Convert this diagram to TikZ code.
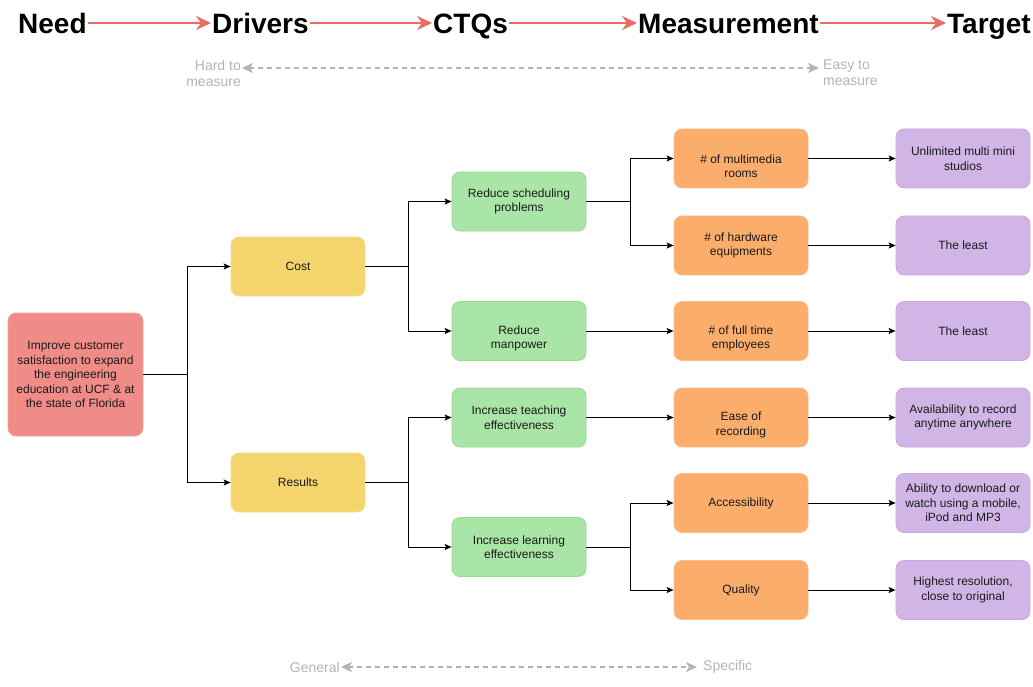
\documentclass[tikz,border=0pt]{standalone}
\usepackage{fontspec}
\setmainfont{Liberation Sans}
\usetikzlibrary{arrows.meta}
\definecolor{hdrred}{HTML}{EA6B66}
\definecolor{graytxt}{HTML}{B3B3B3}
\definecolor{needfill}{HTML}{F08C88}
\definecolor{needdraw}{HTML}{EBA4A1}
\definecolor{yelfill}{HTML}{F3D46D}
\definecolor{yeldraw}{HTML}{F6DE8E}
\definecolor{grnfill}{HTML}{A9E5A6}
\definecolor{grndraw}{HTML}{97D98F}
\definecolor{orgfill}{HTML}{FBAD6C}
\definecolor{orgdraw}{HTML}{F9BE8C}
\definecolor{purfill}{HTML}{D0B5E6}
\definecolor{purdraw}{HTML}{C7AADF}
\definecolor{boxtxt}{HTML}{1A1A1A}
\begin{document}
\begin{tikzpicture}[x=1pt,y=-1pt,
  box/.style={rounded corners=8pt, minimum width=134pt, minimum height=59pt,
    align=center, font=\fontsize{12}{14.5}\selectfont, text=boxtxt, inner sep=2pt, line width=0.8pt},
  needbox/.style={box, fill=needfill, draw=needdraw},
  yelbox/.style={box, fill=yelfill, draw=yeldraw},
  grnbox/.style={box, fill=grnfill, draw=grndraw},
  orgbox/.style={box, fill=orgfill, draw=orgdraw},
  purbox/.style={box, fill=purfill, draw=purdraw},
  hdr/.style={font=\fontsize{28}{30}\selectfont\bfseries, text height=22pt, text depth=0pt, inner sep=1pt, anchor=base west},
  hdrarr/.style={draw=hdrred, line width=2.2pt, -{Stealth[length=15pt,width=14pt,inset=5pt]}},
  gtxt/.style={font=\fontsize{14}{16}\selectfont, text=graytxt, inner sep=1pt},
  garr/.style={draw=graytxt, line width=2pt, dash pattern=on 5pt off 4pt,
    {Stealth[length=11pt,width=10pt,inset=3pt]}-{Stealth[length=11pt,width=10pt,inset=3pt]}},
  arr/.style={draw=black, line width=1pt, -{Stealth[length=7pt,width=6pt,inset=1.5pt]}},
  lowtxt/.style={label={[align=center,font=\fontsize{12}{14.5}\selectfont,text=boxtxt,yshift=-7.5pt]center:#1}}
]
\useasboundingbox (0,0) rectangle (1033,687);

% header
\node[hdr] (hNeed) at (17,34) {Need};
\node[hdr] (hDrivers) at (211,34) {Drivers};
\node[hdr] (hCTQ) at (432,34) {CTQs};
\node[hdr] (hMeas) at (637,34) {Measurement};
\node[hdr] (hTarget) at (946,34) {Target};
\draw[hdrarr] (hNeed.east) -- (hDrivers.west);
\draw[hdrarr] (hDrivers.east) -- (hCTQ.west);
\draw[hdrarr] (hCTQ.east) -- (hMeas.west);
\draw[hdrarr] (hMeas.east) -- (hTarget.west);

% hard / easy
\node[gtxt, align=right, anchor=north east] (hard) at (242,59) {Hard to\\measure};
\node[gtxt, align=left, anchor=north west] (easy) at (822,59) {Easy to\\measure};
\draw[garr] ([yshift=-9pt]hard.north east) -- ([yshift=-9pt,xshift=-3pt]easy.north west);

% general / specific
\node[gtxt, anchor=east] (gen) at (341,667) {General};
\node[gtxt, anchor=west] (spec) at (702,667) {Specific};
\draw[garr] (gen.east) -- ([xshift=-5pt]spec.west);

% nodes
\node[needbox, minimum width=135pt, minimum height=123pt] (need) at (75.5,374.5)
  {Improve customer\\satisfaction to expand\\the engineering\\education at UCF \& at\\the state of Florida};
\node[yelbox] (cost) at (298,266.5) {Cost};
\node[yelbox] (res) at (298,482.5) {Results};

\node[grnbox] (rsp) at (519,201.5) {Reduce scheduling\\problems};
\node[grnbox, lowtxt={Reduce\\manpower}] (rmp) at (519,331) {};
\node[grnbox] (ite) at (519,417.5) {Increase teaching\\effectiveness};
\node[grnbox] (ile) at (519,547) {Increase learning\\effectiveness};

\node[orgbox, lowtxt={\# of multimedia\\rooms}] (mrooms) at (741,158.5) {};
\node[orgbox] (mhw) at (741,245.5) {\# of hardware\\equipments};
\node[orgbox, lowtxt={\# of full time\\employees}] (mft) at (741,331) {};
\node[orgbox, lowtxt={Ease of\\recording}] (mease) at (741,417.5) {};
\node[orgbox] (macc) at (741,503) {Accessibility};
\node[orgbox] (mqual) at (741,590) {Quality};

\node[purbox] (trooms) at (963,158.5) {Unlimited multi mini\\studios};
\node[purbox] (thw) at (963,245.5) {The least};
\node[purbox] (tft) at (963,331) {The least};
\node[purbox] (tease) at (963,417.5) {Availability to record\\anytime anywhere};
\node[purbox] (tacc) at (963,503) {Ability to download or\\watch using a mobile,\\iPod and MP3};
\node[purbox] (tqual) at (963,590) {Highest resolution,\\close to original};

% connectors
\draw[arr] (need.east) -- ++(44,0) |- (cost.west);
\draw[arr] (need.east) -- ++(44,0) |- (res.west);
\draw[arr] (cost.east) -- ++(43,0) |- (rsp.west);
\draw[arr] (cost.east) -- ++(43,0) |- (rmp.west);
\draw[arr] (res.east) -- ++(43,0) |- (ite.west);
\draw[arr] (res.east) -- ++(43,0) |- (ile.west);
\draw[arr] (rsp.east) -- ++(44,0) |- (mrooms.west);
\draw[arr] (rsp.east) -- ++(44,0) |- (mhw.west);
\draw[arr] (rmp.east) -- (mft.west);
\draw[arr] (ite.east) -- (mease.west);
\draw[arr] (ile.east) -- ++(44,0) |- (macc.west);
\draw[arr] (ile.east) -- ++(44,0) |- (mqual.west);
\draw[arr] (mrooms.east) -- (trooms.west);
\draw[arr] (mhw.east) -- (thw.west);
\draw[arr] (mft.east) -- (tft.west);
\draw[arr] (mease.east) -- (tease.west);
\draw[arr] (macc.east) -- (tacc.west);
\draw[arr] (mqual.east) -- (tqual.west);
\end{tikzpicture}
\end{document}
